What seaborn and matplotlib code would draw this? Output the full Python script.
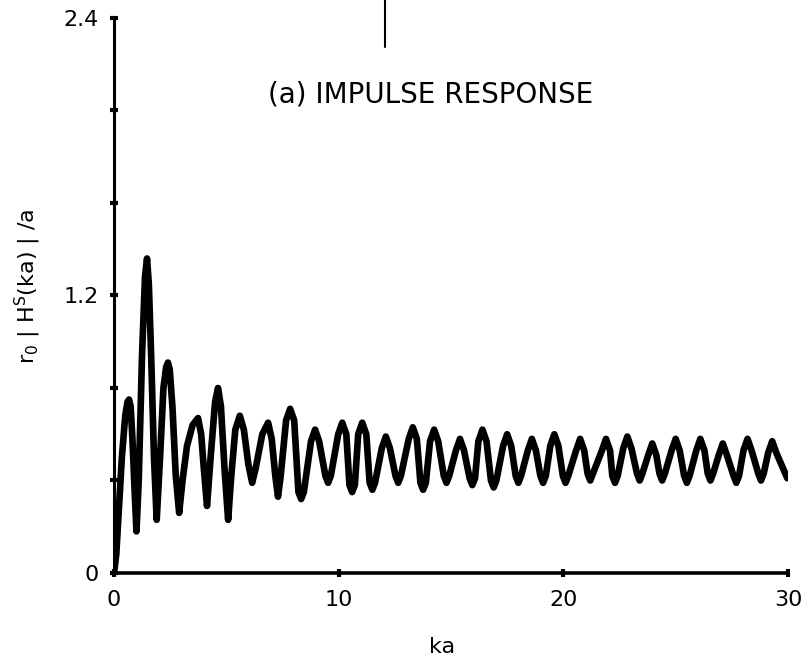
import matplotlib
matplotlib.use("Agg")
import matplotlib.pyplot as plt
import seaborn as sns
import pandas as pd
from matplotlib.ticker import FixedLocator

# ---- data ----
ka = [0.0, 0.1, 0.2, 0.35, 0.5, 0.6, 0.67, 0.74, 0.82, 0.92, 1.0, 1.1, 1.25, 1.38,
      1.47, 1.55, 1.65, 1.78, 1.9, 2.05, 2.2, 2.32, 2.4, 2.48, 2.6, 2.75, 2.9, 3.05,
      3.25, 3.5, 3.74, 3.88, 4.0, 4.14, 4.3, 4.5, 4.63, 4.76, 4.92, 5.08, 5.22, 5.4,
      5.6, 5.78, 5.98, 6.15, 6.3, 6.6, 6.86, 7.02, 7.18, 7.3, 7.42,
      7.66, 7.84, 8.02, 8.21, 8.33, 8.45, 8.77, 8.95, 9.13, 9.41, 9.53, 9.65,
      9.98, 10.16, 10.34, 10.48, 10.6, 10.72, 10.87, 11.05, 11.23, 11.38, 11.5, 11.62,
      11.92, 12.1, 12.28, 12.53, 12.65, 12.77, 13.12, 13.3, 13.48, 13.64, 13.76, 13.88,
      14.07, 14.25, 14.43, 14.68, 14.8, 14.92, 15.22, 15.4, 15.58, 15.83, 15.95, 16.07,
      16.22, 16.4, 16.58, 16.78, 16.9, 17.02, 17.32, 17.5, 17.68, 17.88, 18.0, 18.12,
      18.42, 18.6, 18.78, 18.98, 19.1, 19.22, 19.42, 19.6, 19.78, 19.98, 20.1, 20.22,
      20.57, 20.75, 20.93, 21.08, 21.2, 21.32, 21.72, 21.9, 22.08, 22.18, 22.3, 22.42,
      22.67, 22.85, 23.03, 23.28, 23.4, 23.52, 23.78, 23.96, 24.14, 24.28, 24.4, 24.52,
      24.82, 25.0, 25.18, 25.38, 25.5, 25.62, 25.92, 26.1, 26.28, 26.43, 26.55, 26.67,
      26.92, 27.1, 27.28, 27.58, 27.7, 27.82, 28.02, 28.2, 28.38, 28.68, 28.8, 28.92,
      29.12, 29.3, 29.48, 29.97]
response = [0.0, 0.08, 0.25, 0.5, 0.68, 0.74, 0.75, 0.72, 0.58, 0.35, 0.18, 0.40, 0.95, 1.28,
            1.36, 1.25, 0.95, 0.5, 0.23, 0.5, 0.8, 0.89, 0.91, 0.88, 0.72, 0.42, 0.26, 0.40,
            0.55, 0.64, 0.67, 0.60, 0.45, 0.29, 0.50, 0.74, 0.80, 0.72, 0.45, 0.23, 0.42, 0.62,
            0.68, 0.62, 0.47, 0.39, 0.45, 0.60, 0.65, 0.58, 0.42, 0.33, 0.42,
            0.66, 0.71, 0.66, 0.35, 0.32, 0.35, 0.57, 0.62, 0.57, 0.42, 0.39, 0.42,
            0.60, 0.65, 0.60, 0.38, 0.35, 0.38, 0.60, 0.65, 0.60, 0.39, 0.36, 0.39,
            0.54, 0.59, 0.54, 0.42, 0.39, 0.42, 0.58, 0.63, 0.58, 0.39, 0.36, 0.39,
            0.57, 0.62, 0.57, 0.42, 0.39, 0.42, 0.53, 0.58, 0.53, 0.41, 0.38, 0.41,
            0.57, 0.62, 0.57, 0.40, 0.37, 0.40, 0.55, 0.60, 0.55, 0.42, 0.39, 0.42,
            0.53, 0.58, 0.53, 0.42, 0.39, 0.42, 0.55, 0.60, 0.55, 0.42, 0.39, 0.42,
            0.53, 0.58, 0.53, 0.43, 0.40, 0.43, 0.53, 0.58, 0.53, 0.42, 0.39, 0.42,
            0.54, 0.59, 0.54, 0.43, 0.40, 0.43, 0.51, 0.56, 0.51, 0.43, 0.40, 0.43,
            0.53, 0.58, 0.53, 0.42, 0.39, 0.42, 0.53, 0.58, 0.53, 0.43, 0.40, 0.43,
            0.51, 0.56, 0.51, 0.42, 0.39, 0.42, 0.53, 0.58, 0.53, 0.43, 0.40, 0.43,
            0.52, 0.57, 0.52, 0.41]
x_ticks = [0, 10, 20, 30]
x_ticklabels = ["0", "10", "20", "30"]
y_ticks = [0, 1.2, 2.4]
y_ticklabels = ["0", "1.2", "2.4"]
y_minor = [0.4, 0.8, 1.6, 2.0]
title_text = "(a) IMPULSE RESPONSE"

df = pd.DataFrame({"ka": ka, "resp": response})

sns.set_style("ticks")
plt.rcParams["font.family"] = ["DejaVu Sans"]
plt.rcParams["mathtext.default"] = "regular"
plt.rcParams["text.color"] = "black"
plt.rcParams["axes.labelcolor"] = "black"

fig = plt.figure(figsize=(8.08, 6.59), dpi=100)
ax = fig.add_axes([0.1411, 0.1305, 0.8341, 0.8422])

sns.lineplot(data=df, x="ka", y="resp", ax=ax, color="black", linewidth=4.8,
             sort=False, estimator=None, solid_joinstyle="round",
             solid_capstyle="round")

ax.set_xlim(0, 30)
ax.set_ylim(0, 2.4)
sns.despine(ax=ax)
ax.spines["left"].set_linewidth(2.2)
ax.spines["bottom"].set_linewidth(2.6)
ax.spines["left"].set_color("black")
ax.spines["bottom"].set_color("black")

ax.set_xticks(x_ticks)
ax.set_xticklabels(x_ticklabels)
ax.set_yticks(y_ticks)
ax.set_yticklabels(y_ticklabels)
ax.yaxis.set_minor_locator(FixedLocator(y_minor))
ax.tick_params(axis="both", which="both", direction="inout", length=6, width=3,
               color="black", labelsize=16, labelcolor="black")
ax.tick_params(axis="x", pad=9)
ax.tick_params(axis="y", pad=8)

ax.set_xlabel("ka", fontsize=16, va="center", color="black")
ax.xaxis.set_label_coords(0.487, -0.133)
ax.set_ylabel("r$_0$ | H$^S$(ka) | /a", fontsize=16, color="black")
ax.yaxis.set_label_coords(-0.105, 0.517)

ax.text(14.1, 2.07, title_text, fontsize=20, ha="center", va="center",
        color="black")

# vertical registration mark at top of the figure
ax.axvline(12.07, ymin=0.948, ymax=1.04, color="black", linewidth=1.5,
           clip_on=False)

ax.grid(False)
fig.savefig("out.png", dpi=100)
